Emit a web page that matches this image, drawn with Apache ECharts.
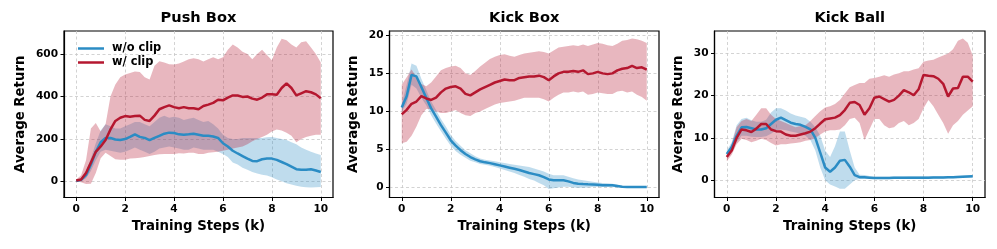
<!DOCTYPE html>
<html>
<head>
<meta charset="utf-8">
<script src="https://cdn.jsdelivr.net/npm/echarts@6/dist/echarts.min.js"></script>
<style>html,body{margin:0;padding:0;background:#fff}#c{width:997px;height:249px}</style>
</head>
<body>
<div id="c"></div>
<script>
const STEPS = [0,0.2,0.4,0.6,0.8,1,1.2,1.4,1.6,1.8,2,2.2,2.4,2.6,2.8,3,3.2,3.4,3.6,3.8,4,4.2,4.4,4.6,4.8,5,5.2,5.4,5.6,5.8,6,6.2,6.4,6.6,6.8,7,7.2,7.4,7.6,7.8,8,8.2,8.4,8.6,8.8,9,9.2,9.4,9.6,9.8,10];
const X_TICKS = [0,2,4,6,8,10];
const TITLES = ['Push Box','Kick Box','Kick Ball'];
const Y_TICKS = [[0,200,400,600],[0,5,10,15,20],[0,10,20,30]];
const SERIES_NAMES = ['w/o clip','w/ clip'];

// Push Box
const PB_NOCLIP_MEAN = [3,8,30,80,140,185,205,205,198,195,200,210,222,210,205,195,205,215,225,230,228,222,220,222,225,220,215,215,212,205,180,165,145,132,120,108,97,96,105,108,108,102,92,82,70,58,55,55,58,52,45];
const PB_NOCLIP_HI = [5,15,50,110,180,240,270,260,250,250,260,270,280,280,270,260,280,300,310,300,305,300,290,295,300,290,280,285,270,250,220,205,200,200,205,205,205,205,205,208,210,205,200,195,185,175,160,150,140,132,125];
const PB_NOCLIP_LO = [0,3,15,50,100,140,150,145,140,135,140,150,160,150,140,130,140,155,160,165,160,155,150,150,160,155,150,150,150,140,130,115,90,80,65,55,45,38,32,28,20,10,2,-8,-14,-20,-25,-27,-28,-27,-26];
const PB_CLIP_MEAN = [5,10,40,90,140,165,195,245,285,300,308,305,308,310,290,285,310,340,350,358,350,345,350,345,345,340,355,362,370,385,382,395,405,405,398,400,390,385,395,410,410,408,440,462,440,405,415,425,420,410,392];
const PB_CLIP_HI = [10,30,100,250,275,235,270,400,456,490,503,510,518,515,490,480,545,566,560,552,550,555,565,575,580,575,565,575,585,575,585,620,645,630,610,600,575,600,620,595,570,630,672,665,645,630,655,660,630,600,560];
const PB_CLIP_LO = [0,-3,-12,-10,40,110,135,120,105,102,102,108,110,112,115,120,125,128,130,130,130,133,132,135,135,130,130,135,138,140,145,150,155,160,165,175,190,200,210,220,235,245,240,230,215,185,200,210,215,220,220];

// Kick Box
const KB_NOCLIP_MEAN = [10.5,12.0,14.8,14.6,13.2,11.8,10.4,9.3,8.2,7.2,6.2,5.5,4.9,4.4,4.0,3.7,3.45,3.3,3.2,3.05,2.9,2.75,2.6,2.45,2.3,2.1,1.9,1.75,1.6,1.35,1.05,0.95,0.95,0.95,0.8,0.6,0.5,0.45,0.42,0.4,0.35,0.3,0.3,0.28,0.18,0.08,0.05,0.05,0.05,0.05,0.05];
const KB_NOCLIP_HI = [11,13.5,16.3,16.0,14.3,12.8,11.3,10.2,9.0,8.0,6.9,6.1,5.5,4.9,4.5,4.1,3.8,3.65,3.55,3.45,3.3,3.2,3.1,3.0,2.9,2.8,2.7,2.5,2.3,2.1,1.8,1.6,1.6,1.6,1.4,1.2,1.05,0.95,0.85,0.75,0.65,0.6,0.55,0.5,0.35,0.15,0.1,0.1,0.1,0.1,0.1];
const KB_NOCLIP_LO = [10,11,13.5,13.0,11.8,10.8,9.5,8.4,7.4,6.4,5.5,4.8,4.3,3.9,3.5,3.3,3.1,3.0,2.85,2.7,2.5,2.3,2.1,1.9,1.65,1.4,1.1,0.9,0.6,0.3,-0.2,-0.1,0.0,0.1,0.1,0.0,-0.05,-0.05,0.0,0.05,0.05,0.05,0.05,0.05,0,0,0,0,0,0,0];
const KB_CLIP_MEAN = [9.6,10.2,11.0,11.3,12.0,11.7,11.5,11.8,12.5,13.0,13.2,13.3,13.0,12.3,12.1,12.5,12.9,13.2,13.5,13.8,14.0,14.2,14.1,14.1,14.4,14.5,14.6,14.6,14.7,14.5,14.1,14.6,15.0,15.2,15.2,15.3,15.2,15.4,14.9,15.0,15.2,15.0,14.9,15.0,15.4,15.6,15.7,16.0,15.7,15.8,15.5];
const KB_CLIP_HI = [13.5,14.5,15.5,14.5,13.6,13.3,13.8,14.6,15.4,15.7,15.9,16.0,15.7,15.0,14.8,15.3,15.9,16.4,16.9,17.2,17.4,17.5,17.3,17.2,17.4,17.6,17.7,17.8,17.9,17.8,17.6,18.0,18.4,18.5,18.6,18.7,18.6,18.8,18.6,18.8,19.0,18.9,18.7,18.6,18.9,19.3,19.4,19.6,19.5,19.3,19.0];
const KB_CLIP_LO = [5.8,6.0,6.8,8.0,9.5,10.3,10.3,10.0,9.8,9.8,10.0,10.2,9.8,9.5,9.4,9.8,10.0,10.3,10.6,10.9,11.1,11.2,11.3,11.4,11.6,11.8,11.8,11.8,11.8,11.6,11.3,11.8,12.2,12.5,12.5,12.6,12.5,12.6,12.2,12.3,12.5,12.4,12.3,12.3,12.6,12.7,12.5,12.6,12.2,11.9,11.4];

// Kick Ball
const KBL_NOCLIP_MEAN = [6.2,7.8,10.5,12.5,12.6,12.3,12.0,12.0,12.3,13.3,14.3,14.8,14.2,13.6,13.3,13.1,12.6,12.0,10.0,6.5,3.0,2.0,3.0,4.6,4.8,3.2,1.2,0.7,0.7,0.6,0.5,0.5,0.5,0.5,0.55,0.55,0.55,0.6,0.6,0.6,0.6,0.6,0.65,0.65,0.65,0.7,0.7,0.75,0.8,0.85,0.9];
const KBL_NOCLIP_HI = [7.0,9.0,13.0,14.5,14.8,14.2,13.8,13.8,14.3,16.0,17.0,17.0,16.5,15.8,15.3,15.0,14.7,13.8,12.5,10.5,7.0,5.5,8.0,11.5,11.5,7.0,3.0,1.3,1.2,1.0,0.8,0.8,0.8,0.8,0.85,0.85,0.85,0.9,0.9,0.9,0.9,0.9,0.95,0.95,0.95,1.0,1.0,1.05,1.1,1.15,1.2];
const KBL_NOCLIP_LO = [5.5,7.0,9.0,10.5,10.5,10.3,10.2,10.2,10.4,11.0,11.8,12.0,11.8,11.5,11.3,11.0,10.5,9.5,7.0,3.0,0.0,-1.0,-1.5,-2.0,-2.0,-1.0,0.0,0.3,0.3,0.3,0.3,0.3,0.3,0.3,0.3,0.3,0.3,0.35,0.35,0.35,0.35,0.35,0.4,0.4,0.4,0.45,0.45,0.5,0.55,0.6,0.65];
const KBL_CLIP_MEAN = [5.5,7.0,10.0,12.0,11.8,11.4,12.2,13.3,13.3,12.0,11.6,11.5,10.8,10.5,10.5,10.8,11.1,11.5,12.3,13.4,14.4,14.6,14.8,15.4,16.6,18.3,18.5,17.8,15.5,17.0,19.5,19.8,19.2,18.6,19.0,20.0,21.3,20.8,20.1,21.5,24.9,24.7,24.6,24.0,22.8,19.8,21.7,21.8,24.5,24.5,23.3];
const KBL_CLIP_HI = [6.5,8.5,12.5,14.0,14.5,14.0,15.5,17.0,17.0,15.5,14.5,14.0,13.5,13.0,12.5,12.8,13.0,14.0,15.2,16.3,17.2,17.5,18.0,19.0,20.5,22.0,22.5,23.0,23.0,24.0,24.2,24.5,24.8,24.5,25.0,25.3,25.8,25.8,26.2,26.5,28.0,28.3,28.5,29.0,29.5,30.0,31.0,33.0,33.5,32.5,29.5];
const KBL_CLIP_LO = [4.5,6.0,8.5,9.8,9.5,9.0,9.3,9.8,9.5,8.8,8.2,8.5,8.5,8.7,8.8,9.0,9.3,9.5,10.0,10.8,11.5,11.8,11.8,12.0,13.0,14.5,14.8,13.5,9.5,12.0,14.5,14.5,13.0,12.3,12.5,13.5,14.0,13.0,13.5,14.5,17.0,19.0,17.5,15.5,13.5,11.0,13.0,14.0,15.5,16.5,17.5];

const PANELS = [
  {noclip:[PB_NOCLIP_MEAN,PB_NOCLIP_LO,PB_NOCLIP_HI], clip:[PB_CLIP_MEAN,PB_CLIP_LO,PB_CLIP_HI]},
  {noclip:[KB_NOCLIP_MEAN,KB_NOCLIP_LO,KB_NOCLIP_HI], clip:[KB_CLIP_MEAN,KB_CLIP_LO,KB_CLIP_HI]},
  {noclip:[KBL_NOCLIP_MEAN,KBL_NOCLIP_LO,KBL_NOCLIP_HI], clip:[KBL_CLIP_MEAN,KBL_CLIP_LO,KBL_CLIP_HI]}
];

// layout
const Y_RANGES = [[-75,708],[-1.32,20.57],[-4.1,35.3]];
const GRIDS = [{left:64,top:31,width:269,height:166.5},{left:389.5,top:31,width:269.5,height:166.5},{left:714.5,top:31,width:270.5,height:166.5}];
const BLUE = '#2b8cc4', RED = '#b5172f';
const BLUE_FILL = 'rgba(43,140,196,0.3)', RED_FILL = 'rgba(185,30,55,0.32)';
const FONT = 'DejaVu Sans';

function band(idx, lo, hi, fill, z) {
  return {
    type:'custom', xAxisIndex:idx, yAxisIndex:idx, silent:true, z:z,
    data: STEPS.map((x,i)=>[x, lo[i], hi[i]]),
    encode:{x:0, y:[1,2]},
    renderItem: function(params, api){
      if (params.dataIndex !== 0) return null;
      const top = STEPS.map((x,i)=>api.coord([x, hi[i]]));
      const bot = STEPS.map((x,i)=>api.coord([x, lo[i]])).reverse();
      return {type:'polygon', shape:{points: top.concat(bot)}, style:{fill: fill}};
    }
  };
}
function line(idx, name, mean, color, z) {
  return {
    type:'line', name:name, xAxisIndex:idx, yAxisIndex:idx, showSymbol:false, symbol:'none',
    silent:true, z:z, animation:false,
    data: STEPS.map((x,i)=>[x, mean[i]]),
    lineStyle:{color:color, width:2.5}, itemStyle:{color:color}
  };
}

const grid = [], xAxis = [], yAxis = [], series = [], title = [];
PANELS.forEach((p, i) => {
  const g = GRIDS[i];
  grid.push(Object.assign({show:true, borderColor:'#000', borderWidth:1.2, backgroundColor:'transparent'}, g));
  title.push({text:TITLES[i], left:g.left + g.width/2, top:11, textAlign:'center', padding:0,
    textStyle:{fontFamily:FONT, fontWeight:'bold', fontSize:14.6, color:'#000'}});
  const split = {show:true, lineStyle:{color:'#c8c8c8', width:0.8, type:[3,2.5]}};
  xAxis.push({gridIndex:i, type:'value', min:-0.5, max:10.5,
    axisLine:{show:true, onZero:false, lineStyle:{color:'#000', width:1.2}},
    axisTick:{show:true, length:3.5, lineStyle:{color:'#000', width:1}, customValues:X_TICKS},
    axisLabel:{customValues:X_TICKS, fontFamily:FONT, fontWeight:'bold', fontSize:10.6, color:'#000', margin:6},
    splitLine:split,
    name:'Training Steps (k)', nameLocation:'middle', nameGap:23,
    nameTextStyle:{fontFamily:FONT, fontWeight:'bold', fontSize:13.3, color:'#000'}});
  yAxis.push({gridIndex:i, type:'value', min:Y_RANGES[i][0], max:Y_RANGES[i][1],
    axisLine:{show:true, onZero:false, lineStyle:{color:'#000', width:1.2}},
    axisTick:{show:true, length:3.5, lineStyle:{color:'#000', width:1}, customValues:Y_TICKS[i]},
    axisLabel:{customValues:Y_TICKS[i], fontFamily:FONT, fontWeight:'bold', fontSize:10.6, color:'#000', margin:6},
    splitLine:split,
    name:'Average Return', nameLocation:'middle', nameGap:i===0?37:29,
    nameTextStyle:{fontFamily:FONT, fontWeight:'bold', fontSize:13.3, color:'#000'}});
  series.push(band(i, p.noclip[1], p.noclip[2], BLUE_FILL, 1));
  series.push(band(i, p.clip[1], p.clip[2], RED_FILL, 2));
  series.push(line(i, SERIES_NAMES[0], p.noclip[0], BLUE, 3));
  series.push(line(i, SERIES_NAMES[1], p.clip[0], RED, 4));
});

const chart = echarts.init(document.getElementById('c'), null, {renderer:'canvas'});
chart.setOption({
  animation:false,
  backgroundColor:'#fff',
  title: title,
  legend:{data:SERIES_NAMES, orient:'vertical', left:73, top:38, icon:'rect', itemWidth:26, itemHeight:2.5,
    itemGap:3, selectedMode:false,
    textStyle:{fontFamily:FONT, fontWeight:'bold', fontSize:11.4, color:'#000', padding:[0,0,0,3]}},
  grid: grid, xAxis: xAxis, yAxis: yAxis, series: series
});
</script>
</body>
</html>
